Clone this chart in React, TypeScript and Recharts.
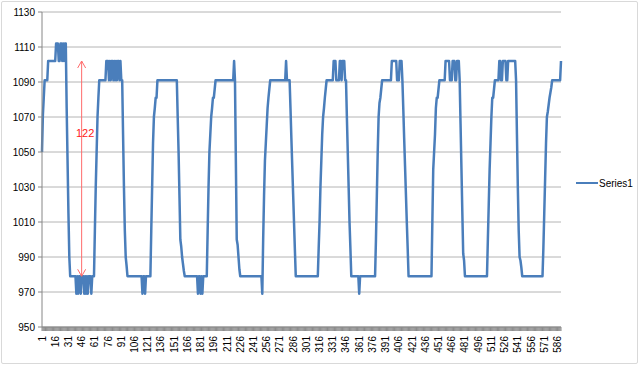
import { LineChart, Line, XAxis, YAxis, CartesianGrid, ReferenceLine, ReferenceDot } from 'recharts';

// values, one per category (1..590), ten per row
const seriesValues = [
  1050, 1071, 1081, 1091, 1091, 1091, 1091, 1102, 1102, 1102,
  1102, 1102, 1102, 1102, 1102, 1102, 1112, 1112, 1112, 1102,
  1102, 1112, 1112, 1102, 1112, 1102, 1112, 1112, 1075, 1045,
  1015, 990, 979, 979, 979, 979, 979, 979, 979, 969,
  979, 969, 979, 979, 969, 979, 979, 979, 969, 979,
  969, 979, 969, 979, 979, 979, 969, 979, 979, 979,
  1005, 1030, 1050, 1070, 1081, 1091, 1091, 1091, 1091, 1091,
  1091, 1091, 1091, 1102, 1102, 1102, 1091, 1102, 1091, 1102,
  1102, 1091, 1102, 1091, 1102, 1091, 1102, 1102, 1091, 1102,
  1091, 1091, 1060, 1030, 1005, 990, 985, 979, 979, 979,
  979, 979, 979, 979, 979, 979, 979, 979, 979, 979,
  979, 979, 979, 979, 969, 979, 979, 969, 979, 979,
  979, 979, 979, 979, 1005, 1030, 1055, 1070, 1075, 1081,
  1081, 1091, 1091, 1091, 1091, 1091, 1091, 1091, 1091, 1091,
  1091, 1091, 1091, 1091, 1091, 1091, 1091, 1091, 1091, 1091,
  1091, 1091, 1091, 1091, 1070, 1050, 1025, 1000, 996, 990,
  986, 982, 979, 979, 979, 979, 979, 979, 979, 979,
  979, 979, 979, 979, 979, 979, 979, 969, 979, 979,
  969, 979, 969, 979, 979, 979, 979, 979, 1005, 1030,
  1050, 1060, 1070, 1075, 1081, 1081, 1086, 1091, 1091, 1091,
  1091, 1091, 1091, 1091, 1091, 1091, 1091, 1091, 1091, 1091,
  1091, 1091, 1091, 1091, 1091, 1091, 1091, 1091, 1102, 1091,
  1045, 1000, 997, 990, 983, 979, 979, 979, 979, 979,
  979, 979, 979, 979, 979, 979, 979, 979, 979, 979,
  979, 979, 979, 979, 979, 979, 979, 979, 979, 979,
  969, 1000, 1025, 1045, 1055, 1065, 1075, 1081, 1086, 1091,
  1091, 1091, 1091, 1091, 1091, 1091, 1091, 1091, 1091, 1091,
  1091, 1091, 1091, 1091, 1091, 1091, 1091, 1102, 1091, 1091,
  1091, 1091, 1075, 1058, 1042, 1026, 1010, 994, 979, 979,
  979, 979, 979, 979, 979, 979, 979, 979, 979, 979,
  979, 979, 979, 979, 979, 979, 979, 979, 979, 979,
  979, 979, 979, 979, 995, 1010, 1030, 1045, 1060, 1070,
  1075, 1081, 1086, 1091, 1091, 1091, 1091, 1091, 1091, 1091,
  1091, 1102, 1102, 1102, 1091, 1091, 1091, 1091, 1102, 1102,
  1091, 1102, 1102, 1102, 1091, 1091, 1070, 1050, 1030, 1010,
  995, 979, 979, 979, 979, 979, 979, 979, 979, 979,
  969, 979, 979, 979, 979, 979, 979, 979, 979, 979,
  979, 979, 979, 979, 979, 979, 979, 979, 979, 1000,
  1025, 1050, 1070, 1078, 1081, 1086, 1091, 1091, 1091, 1091,
  1091, 1091, 1091, 1091, 1091, 1091, 1091, 1102, 1102, 1102,
  1102, 1102, 1102, 1091, 1091, 1091, 1102, 1102, 1102, 1091,
  1075, 1058, 1042, 1026, 1010, 995, 979, 979, 979, 979,
  979, 979, 979, 979, 979, 979, 979, 979, 979, 979,
  979, 979, 979, 979, 979, 979, 979, 979, 979, 979,
  979, 979, 979, 1010, 1040, 1050, 1060, 1075, 1081, 1081,
  1086, 1091, 1091, 1091, 1091, 1091, 1091, 1091, 1102, 1102,
  1102, 1102, 1102, 1091, 1091, 1091, 1102, 1102, 1102, 1091,
  1091, 1102, 1102, 1102, 1091, 1066, 1041, 1016, 992, 988,
  979, 979, 979, 979, 979, 979, 979, 979, 979, 979,
  979, 979, 979, 979, 979, 979, 979, 979, 979, 979,
  979, 979, 979, 979, 979, 979, 1000, 1020, 1040, 1055,
  1070, 1081, 1081, 1086, 1091, 1091, 1091, 1091, 1091, 1102,
  1102, 1091, 1091, 1102, 1102, 1102, 1102, 1091, 1091, 1102,
  1102, 1102, 1102, 1102, 1102, 1102, 1102, 1102, 1091, 1060,
  1030, 1005, 990, 988, 984, 979, 979, 979, 979, 979,
  979, 979, 979, 979, 979, 979, 979, 979, 979, 979,
  979, 979, 979, 979, 979, 979, 979, 979, 979, 995,
  1015, 1035, 1055, 1070, 1073, 1077, 1081, 1084, 1087, 1091,
  1091, 1091, 1091, 1091, 1091, 1091, 1091, 1091, 1091, 1102,
];

const xLabelTicks = [
  1, 16, 31, 46, 61, 76, 91, 106, 121, 136, 151, 166, 181, 196, 211, 226, 241, 256, 271, 286,
  301, 316, 331, 346, 361, 376, 391, 406, 421, 436, 451, 466, 481, 496, 511, 526, 541, 556, 571, 586,
];
const yTicks = [950, 970, 990, 1010, 1030, 1050, 1070, 1090, 1110, 1130];

// red annotation: arrow between the high and low plateau
const arrowCategory = 46;
const arrowTop = 1102;
const arrowBottom = 979;
const arrowText = '122';
const arrowTextCategory = 50;
const arrowTextValue = 1061;

const seriesName = 'Series1';

const data = seriesValues.map((v, i) => ({ idx: i + 1, value: v }));

const FONT = '"Liberation Sans", Arial, sans-serif';
const BLUE = '#4a7ebb';

const XTick = (props: any) => {
  const { x, y, payload } = props;
  if (!xLabelTicks.includes(payload.value)) return <g />;
  return (
    <text
      x={x}
      y={y}
      transform={`rotate(-90 ${x} ${y})`}
      textAnchor="end"
      dominantBaseline="central"
      fontSize={10}
      fontFamily={FONT}
      fill="#000"
    >
      {payload.value}
    </text>
  );
};

const ArrowShape = (props: any) => {
  const { x1, y1, x2, y2 } = props;
  return (
    <g stroke="#ff6a6a" strokeWidth={1} fill="none">
      <line x1={x1} y1={y1} x2={x2} y2={y2} />
      <polyline points={`${x1 - 4},${y1 + 7} ${x1},${y1} ${x1 + 4},${y1 + 7}`} />
      <polyline points={`${x2 - 4},${y2 - 7} ${x2},${y2} ${x2 + 4},${y2 - 7}`} />
    </g>
  );
};

export default function App() {
  return (
    <div
      style={{
        position: 'absolute',
        left: 1,
        top: 1,
        width: 635,
        height: 361,
        border: '1px solid #d9d9d9',
        borderRadius: 2,
        background: '#fff',
      }}
    >
      <LineChart width={635} height={361} data={data} margin={{ top: 10, right: 76, left: 0, bottom: 0 }}>
        <CartesianGrid vertical={false} stroke="#b4b4b4" />
        <XAxis
          dataKey="idx"
          interval={0}
          height={36}
          tickSize={4}
          tickMargin={5}
          tick={XTick}
          tickLine={{ stroke: '#8c8c8c' }}
          axisLine={{ stroke: '#868686' }}
        />
        <YAxis
          domain={[950, 1130]}
          ticks={yTicks}
          interval={0}
          width={40}
          tickSize={4}
          tickMargin={3}
          tick={{ fill: '#000', fontSize: 10, fontFamily: FONT }}
          tickLine={{ stroke: '#868686' }}
          axisLine={{ stroke: '#868686' }}
        />
        <Line
          type="linear"
          dataKey="value"
          name={seriesName}
          stroke={BLUE}
          strokeWidth={2.5}
          strokeLinejoin="round"
          dot={false}
          activeDot={false}
          isAnimationActive={false}
        />
        <ReferenceLine
          segment={[
            { x: arrowCategory, y: arrowTop },
            { x: arrowCategory, y: arrowBottom },
          ]}
          shape={ArrowShape}
        />
        <ReferenceDot
          x={arrowTextCategory}
          y={arrowTextValue}
          r={0}
          stroke="none"
          label={{ value: arrowText, position: 'center', fill: '#ff2020', fontSize: 11, fontFamily: FONT }}
        />
      </LineChart>
      <div
        style={{
          position: 'absolute',
          left: 574,
          top: 174,
          display: 'flex',
          alignItems: 'center',
          fontFamily: FONT,
          fontSize: 10,
          color: '#000',
        }}
      >
        <svg width={22} height={14}>
          <line x1={0} y1={7} x2={22} y2={7} stroke={BLUE} strokeWidth={2} />
        </svg>
        <span style={{ marginLeft: 1 }}>{seriesName}</span>
      </div>
    </div>
  );
}
